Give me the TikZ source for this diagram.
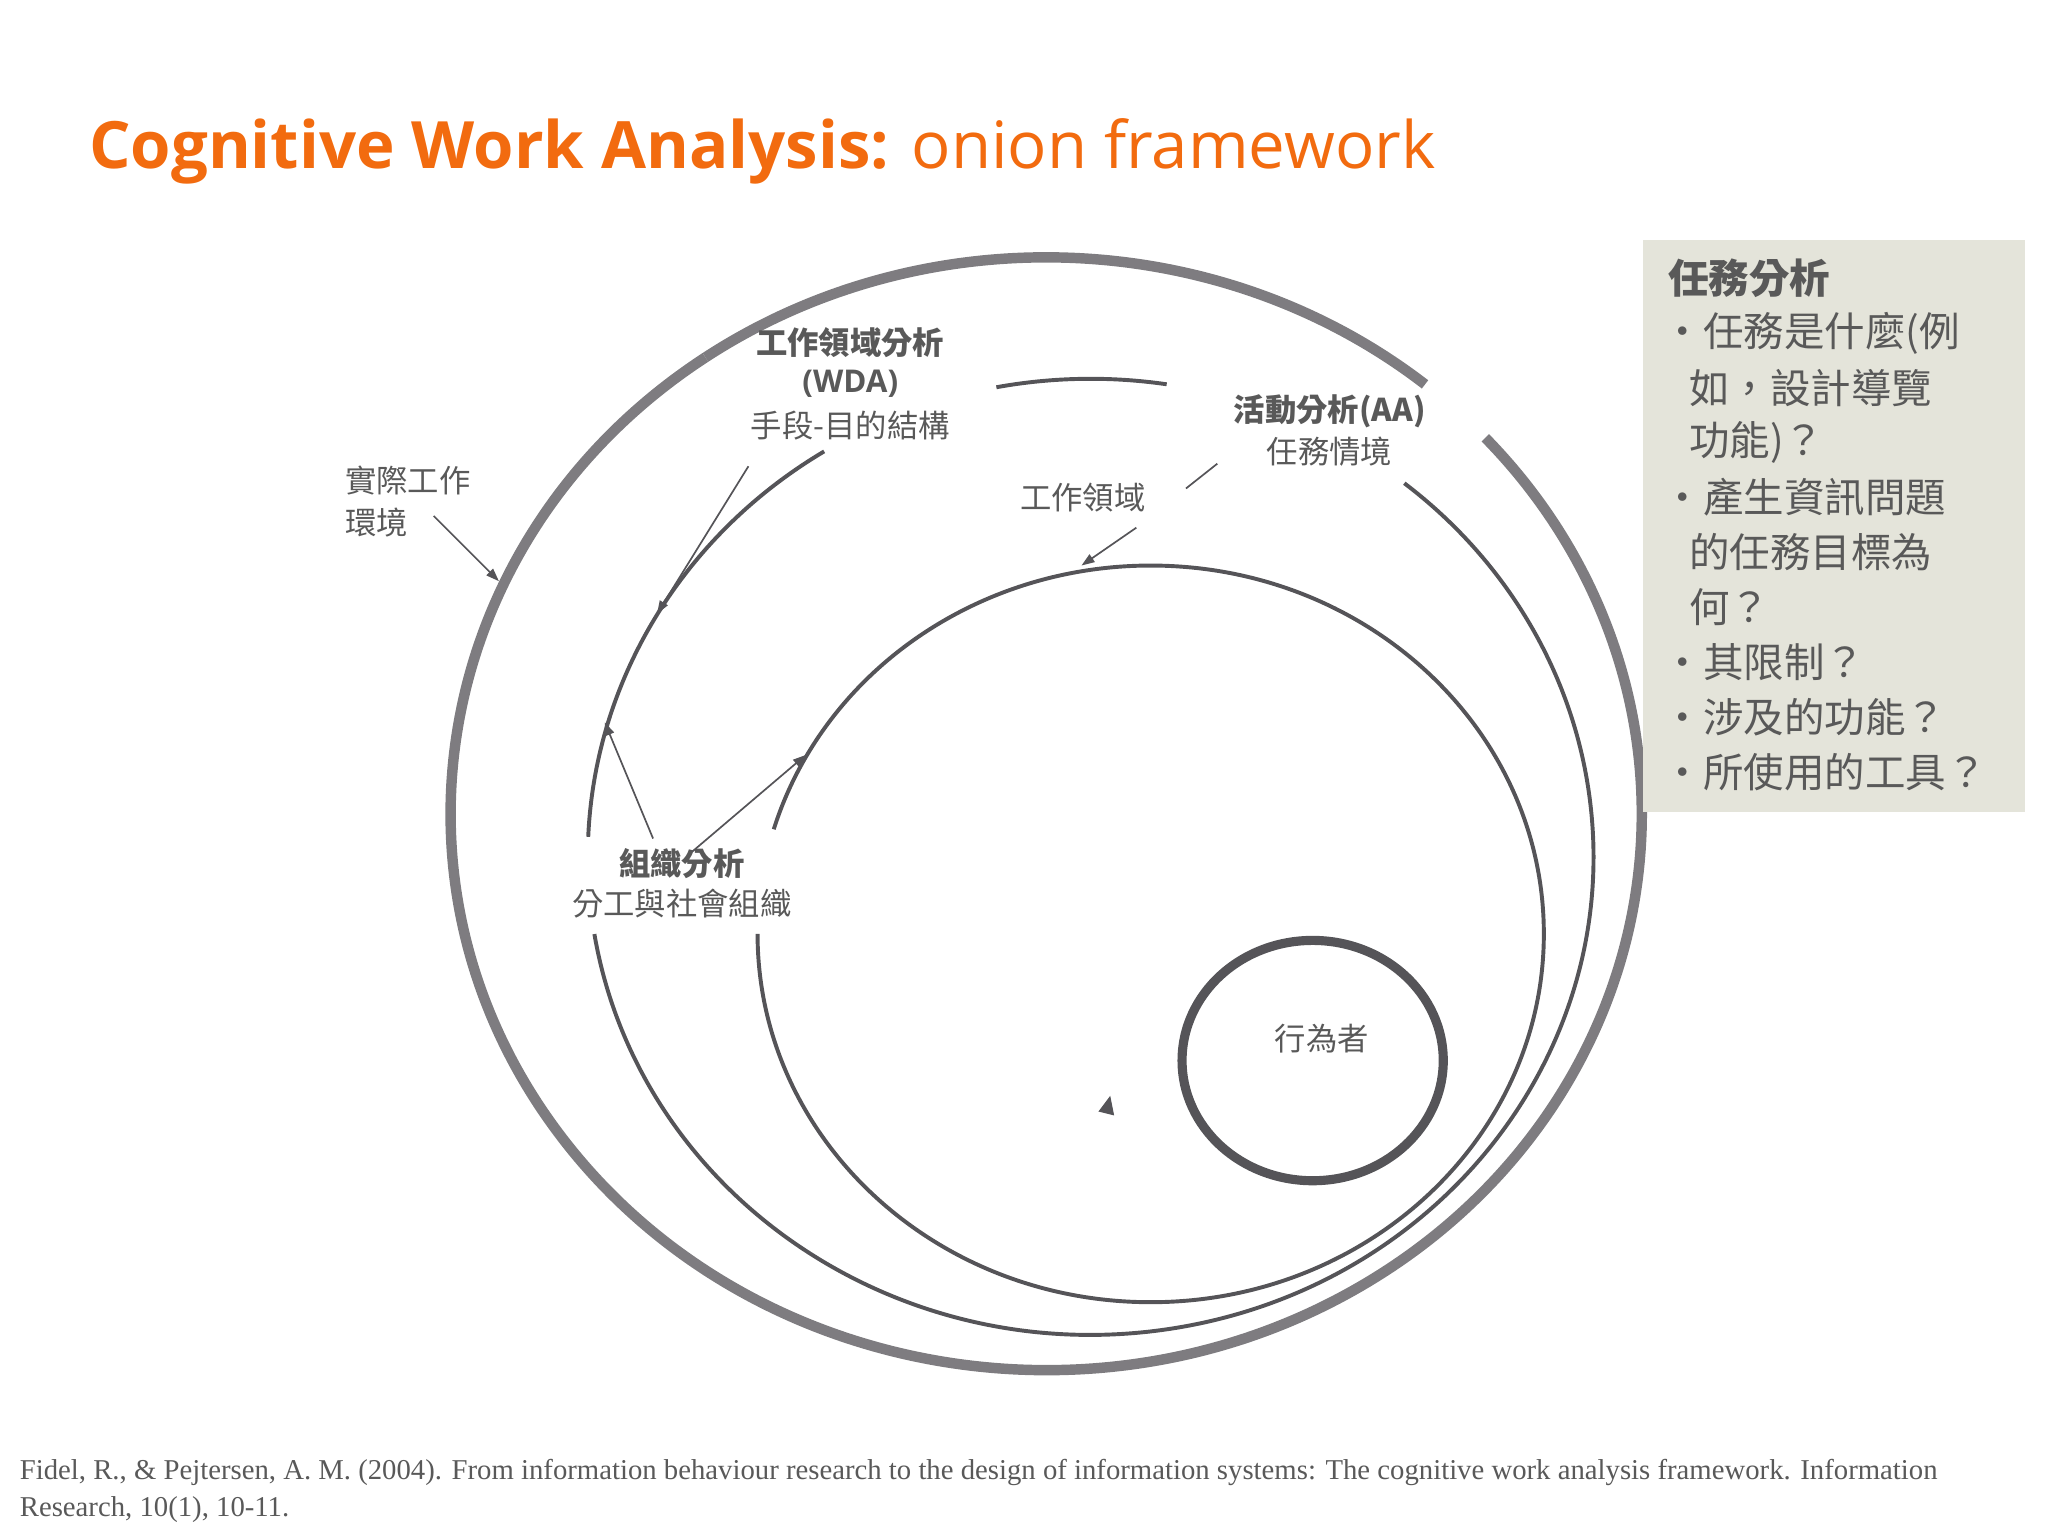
\documentclass[tikz,border=0pt]{standalone}
\usetikzlibrary{arrows.meta}
\usepackage{fontspec}
\setmainfont{Liberation Serif}
\newfontfamily\titlef{Open Sans}
\newfontfamily\cjk{Noto Sans CJK TC}
\definecolor{orng}{HTML}{F26B0F}
\definecolor{ring}{HTML}{7E7C80}
\definecolor{ring2}{HTML}{555458}
\definecolor{txt}{HTML}{595959}
\definecolor{panel}{HTML}{E4E4DA}
\begin{document}
\begin{tikzpicture}[x=1pt,y=1pt,
  lbl/.style={font=\cjk\fontsize{24}{30}\selectfont,text=txt,inner sep=1pt},
  lblb/.style={lbl,font=\cjk\bfseries\fontsize{24}{30}\selectfont},
  ptxt/.style={anchor=west,font=\cjk\fontsize{31}{36}\selectfont,text=txt,inner sep=0pt},
  arr/.style={-{Triangle[length=10pt,width=7pt]},ring2,line width=1.3pt},
  ringA/.style={ring,line width=8pt},
  ringB/.style={ring2,line width=3pt}]
\useasboundingbox (0,0) rectangle (1568,1176);
% title
\node[anchor=base west,inner sep=0pt,text=orng,font=\titlef\fontsize{50}{60}\selectfont] (title) at (68,1047)
 {\textbf{Cognitive Work Analysis:} onion framework};
% outer ring
\draw[ringA] (801,553) ++(50.5:456 and 426) arc[start angle=50.5,end angle=124.9,x radius=456,y radius=426];
\draw[ringA] (801,553) ++(124.9:456 and 426) arc[start angle=124.9,end angle=402.5,x radius=456,y radius=426];
% work domain ring
\draw[ringB] (835,520) ++(81.3:385 and 366) arc[start angle=81.3,end angle=100.8,x radius=385,y radius=366];
\draw[ringB] (835,520) ++(122:385 and 366) arc[start angle=122,end angle=177.6,x radius=385,y radius=366];
\draw[ringB] (835,520) ++(189.3:385 and 366) arc[start angle=189.3,end angle=411.4,x radius=385,y radius=366];
% task ring
\draw[ringB] (881,461) ++(180:301 and 282) arc[start angle=180,end angle=523.5,x radius=301,y radius=282];
% actor
\draw[ring2,line width=7pt] (1005,364) ellipse[x radius=100,y radius=92];
\node[lbl] (actor) at (1012,381) {行為者};
% labels
\node[lblb] (wda1) at (651,914) {工作領域分析};
\node[lblb,font=\titlef\bfseries\fontsize{24}{30}\selectfont] (wda2) at (651,882) {(WDA)};
\node[lbl] (wda3) at (651,850) {手段-目的結構};
\node[lbl,anchor=west] (env1) at (263,808) {實際工作};
\node[lbl,anchor=west] (env2) at (263,776) {環境};
\node[lblb] (aa1) at (1018,861) {活動分析(AA)};
\node[lbl] (aa2) at (1018,830) {任務情境};
\node[lbl] (wd) at (829,795) {工作領域};
\node[lblb] (org1) at (522,515) {組織分析};
\node[lbl] (org2) at (522,484) {分工與社會組織};
% connectors
\coordinate (e1) at (382,731);
\coordinate (w1) at (503,706);
\coordinate (o1) at (463,623);
\coordinate (o2) at (617,598);
\coordinate (t1) at (828,743);
\draw[arr] (332,781) -- (e1);
\draw[arr] (573,819) -- (w1);
\draw[arr] (500,534) -- (o1);
\draw[arr] (530,524) -- (o2);
\draw[ring2,line width=1.3pt] (932,821) -- (908,802);
\draw[arr] (870,772) -- (t1);
\fill[ring2] (841,325) -- (853,322) -- (850,337) -- cycle;
% panel
\fill[panel] (1258,554) rectangle (1550,992);
\node[ptxt,font=\cjk\bfseries\fontsize{31}{36}\selectfont] (p0) at (1277,963) {任務分析};
\node[ptxt] (p1) at (1273,921) {•任務是什麼(例};
\node[ptxt] (p2) at (1293,879) {如，設計導覽};
\node[ptxt] (p3) at (1293,837) {功能)？};
\node[ptxt] (p4) at (1273,795) {•產生資訊問題};
\node[ptxt] (p5) at (1293,753) {的任務目標為};
\node[ptxt] (p6) at (1293,711) {何？};
\node[ptxt] (p7) at (1273,669) {•其限制？};
\node[ptxt] (p8) at (1273,627) {•涉及的功能？};
\node[ptxt] (p9) at (1273,585) {•所使用的工具？};
% citation
\node[anchor=west,inner sep=0pt,text=txt,font=\fontsize{22}{26}\selectfont] (c1) at (15,49) {Fidel, R., \& Pejtersen, A. M. (2004). From information behaviour research to the design of information systems: The cognitive work analysis framework. Information};
\node[anchor=west,inner sep=0pt,text=txt,font=\fontsize{22}{26}\selectfont] (c2) at (15,20) {Research, 10(1), 10-11.};
\end{tikzpicture}
\end{document}
